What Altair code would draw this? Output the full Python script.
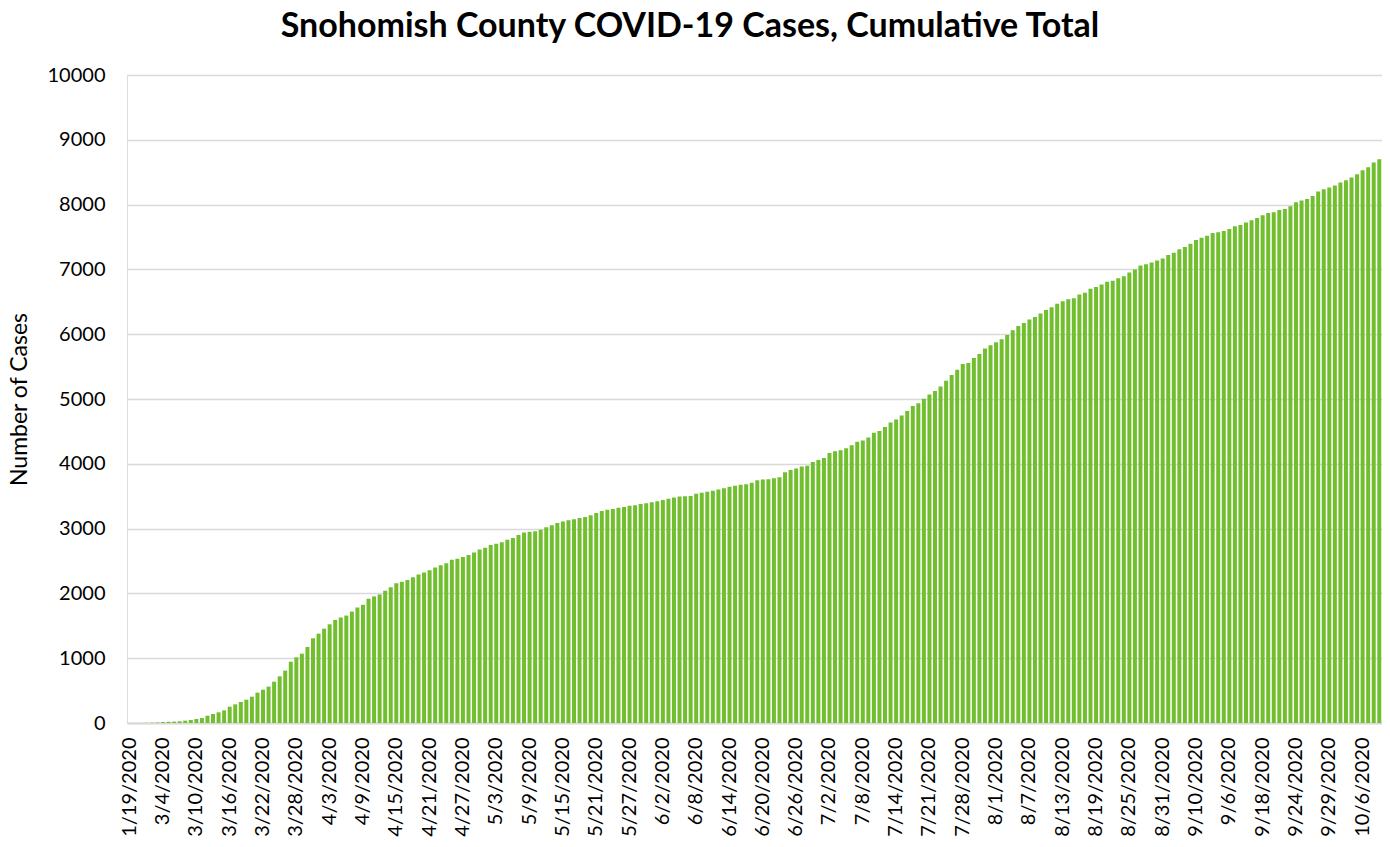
import json
import altair as alt
import pandas as pd

TITLE = "Snohomish County COVID-19 Cases, Cumulative Total"

# Tick labels shown on the category axis (every 6th bar)
tick_labels = [
    "1/19/2020", "3/4/2020", "3/10/2020", "3/16/2020", "3/22/2020", "3/28/2020",
    "4/3/2020", "4/9/2020", "4/15/2020", "4/21/2020", "4/27/2020", "5/3/2020",
    "5/9/2020", "5/15/2020", "5/21/2020", "5/27/2020", "6/2/2020", "6/8/2020",
    "6/14/2020", "6/20/2020", "6/26/2020", "7/2/2020", "7/8/2020", "7/14/2020",
    "7/21/2020", "7/28/2020", "8/1/2020", "8/7/2020", "8/13/2020", "8/19/2020",
    "8/25/2020", "8/31/2020", "9/10/2020", "9/6/2020", "9/18/2020", "9/24/2020",
    "9/29/2020", "10/6/2020",
]

# Cumulative case counts, in bar order
cases_start = [1, 1, 2, 3, 5]
cases_march = [8, 15, 18, 21, 26, 36, 46, 62, 77, 113, 139, 165, 195, 252, 288, 324,
               360, 406, 468, 514, 561, 638, 720, 808, 946, 1013, 1070, 1173, 1307,
               1379, 1456, 1523, 1590, 1628]
cases_april = [1658, 1720, 1782, 1824, 1917, 1953, 1984, 2041, 2093, 2155, 2181, 2207,
               2249, 2290, 2321, 2357, 2399, 2435, 2466, 2518, 2534, 2560, 2591, 2632,
               2679, 2705, 2746, 2767, 2788, 2829, 2855, 2902, 2938, 2953, 2958, 2984,
               3022, 3052]
cases_may = [3088, 3108, 3129, 3144, 3165, 3180, 3206, 3242, 3273, 3289, 3304, 3320,
             3335, 3351, 3361, 3381, 3392, 3407, 3423, 3443, 3459, 3479, 3495, 3500,
             3505, 3536, 3552, 3567, 3583, 3603, 3624, 3644, 3660, 3675, 3686, 3706,
             3748, 3758]
cases_june = [3762, 3776, 3792, 3870, 3906, 3927, 3958, 3969, 4026, 4057, 4089, 4167,
              4193, 4208, 4240, 4287, 4339, 4359, 4406, 4479, 4505, 4568, 4636, 4682,
              4745, 4813, 4891, 4933, 5005, 5068, 5125, 5193, 5282, 5370, 5450]
cases_july = [5541, 5556, 5633, 5695, 5778, 5829, 5876, 5922, 5989, 6061, 6128, 6174,
              6226, 6267, 6318, 6375, 6416, 6468, 6509, 6540, 6555, 6612, 6638, 6700,
              6730, 6766, 6808, 6823, 6864, 6895, 6952, 6998, 7060, 7081, 7106, 7137,
              7168, 7222]
cases_sept = [7258, 7310, 7346, 7397, 7454, 7490, 7521, 7562, 7573, 7593, 7624, 7665,
              7686, 7722, 7758, 7794, 7835, 7871, 7882, 7918, 7933, 7974, 8036, 8062,
              8088, 8134, 8201, 8237, 8263, 8294, 8340, 8376, 8417, 8469, 8530, 8577,
              8649, 8700]

cases = cases_start + cases_march + cases_april + cases_may + cases_june + cases_july + cases_sept
df = pd.DataFrame({"idx": list(range(len(cases))), "cases": cases})

label_expr = json.dumps(tick_labels) + "[floor(datum.value / 6)]"
tick_positions = [i * 6 for i in range(len(tick_labels))]

FONT = "Lato"

bars = (
    alt.Chart(df)
    .mark_bar(color="#71bf2f")
    .encode(
        x=alt.X(
            "idx:O",
            title=None,
            scale=alt.Scale(paddingInner=0.28, paddingOuter=0.13),
            axis=alt.Axis(
                values=tick_positions,
                labelExpr=label_expr,
                labelAngle=-90,
                labelAlign="right",
                labelBaseline="middle",
                labelPadding=14,
                labelFontSize=20,
                labelFont=FONT,
                labelColor="#000000",
                ticks=False,
                domainColor="#d9d9d9",
                domainWidth=2,
                grid=False,
                labelOverlap=False,
            ),
        ),
        y=alt.Y(
            "cases:Q",
            title="Number of Cases",
            scale=alt.Scale(domain=[0, 10000], nice=False),
            axis=alt.Axis(
                values=list(range(0, 10001, 1000)),
                format="d",
                labelFontSize=20,
                labelFont=FONT,
                labelColor="#000000",
                labelPadding=22,
                ticks=False,
                domain=False,
                gridColor="#d9d9d9",
                gridWidth=1.5,
                titleFont=FONT,
                titleFontSize=23,
                titleFontWeight="normal",
                titleColor="#000000",
                titleX=-101,
                titleY=324,
                titleBaseline="alphabetic",
                titleAngle=-90,
            ),
        ),
    )
)

title_text = (
    alt.Chart(pd.DataFrame({"t": [TITLE]}))
    .mark_text(
        font=FONT,
        fontSize=34,
        fontWeight="bold",
        color="#000000",
        align="center",
        baseline="alphabetic",
    )
    .encode(text="t:N", x=alt.value(563), y=alt.value(-38))
)

chart = (
    alt.layer(bars, title_text)
    .properties(
        width=1255,
        height=648,
        autosize=alt.AutoSizeParams(type="none"),
        padding={"left": 119, "top": 67, "right": 0, "bottom": 116},
    )
    .configure_view(stroke=None)
    .configure(background="white")
)

chart.save("out.html", embed_options={"renderer": "svg", "actions": False})
